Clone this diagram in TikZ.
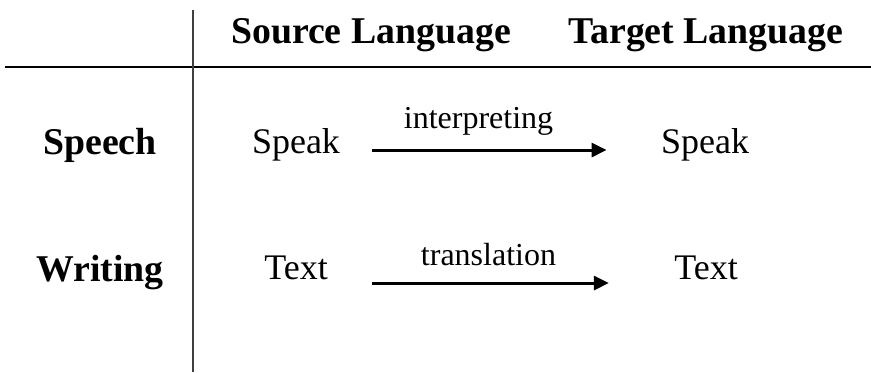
\documentclass[tikz,border=0pt]{standalone}
\usepackage{fontspec}
\setmainfont{Liberation Serif}
\usetikzlibrary{arrows.meta}
\tikzset{
  head/.style={font=\fontsize{18.9}{21}\selectfont\bfseries, anchor=base, inner sep=0pt},
  cell/.style={font=\fontsize{18}{20}\selectfont, anchor=base, inner sep=0pt},
  lbl/.style={font=\fontsize{16}{18}\selectfont, anchor=base, inner sep=0pt},
  flow/.style={line width=1.5pt, -{Triangle[length=7.5pt,width=7pt]}},
  rule/.style={line width=1pt}
}
\begin{document}
\begin{tikzpicture}[x=0.5pt, y=-0.5pt]
	\useasboundingbox (0,0) rectangle (871,372);
	% table lines
	\draw[rule] (5,67) -- (871,67);
	\draw[rule, black!75] (193,10) -- (193,372);

	% headings
	\node[head] (src) at (371,43) {Source Language};
	\node[head] (tgt) at (706,43) {Target Language};
	\node[head] (speech) at (100,154) {Speech};
	\node[head] (writing) at (100,281) {Writing};

	% cells
	\node[cell] (sspeak) at (296,153) {Speak};
	\node[cell] (tspeak) at (705,153) {Speak};
	\node[cell] (stext) at (296,279) {Text};
	\node[cell] (ttext) at (706,279) {Text};

	\draw[flow] ([shift={(16pt,1.5pt)}]sspeak.base east) -- node[lbl, xshift=-5.5pt, yshift=11pt] {interpreting} ([shift={(-27pt,1.5pt)}]tspeak.base west);
	\draw[flow] ([shift={(22pt,-2pt)}]stext.base east) -- node[lbl, xshift=-1pt, yshift=9pt] {translation} ([shift={(-32.5pt,-2pt)}]ttext.base west);
\end{tikzpicture}
\end{document}
